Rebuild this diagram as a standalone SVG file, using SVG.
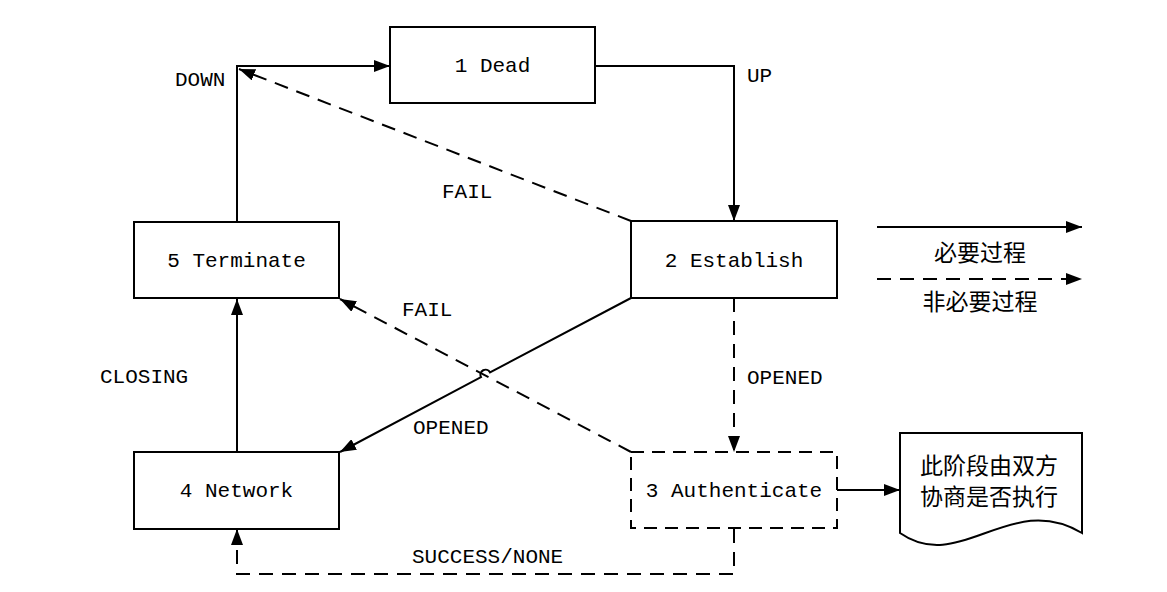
<svg xmlns="http://www.w3.org/2000/svg" width="1167" height="592" viewBox="0 0 1167 592">
<style>
.box{fill:#fff;stroke:#000;stroke-width:2}
.dbox{fill:#fff;stroke:#000;stroke-width:2;stroke-dasharray:13 8}
.ln{fill:none;stroke:#000;stroke-width:2}
.dl{fill:none;stroke:#000;stroke-width:2;stroke-dasharray:14 9}
.t{font-family:"Liberation Mono",monospace;font-size:21px;fill:#000}
.c{font-family:"Noto Sans CJK SC",sans-serif;font-size:23px;fill:#000}
</style>
<defs>
<marker id="ah" viewBox="0 0 16 12" refX="16" refY="6" markerWidth="16" markerHeight="12" markerUnits="userSpaceOnUse" orient="auto">
<path d="M0,0 L16,6 L0,12 Z" fill="#000"/>
</marker>
</defs>
<rect width="1167" height="592" fill="#fff"/>
<g id="connectors">
<polyline class="ln" points="237,222 237,66 390,66" marker-end="url(#ah)"/>
<polyline class="ln" points="595,66 734,66 734,221" marker-end="url(#ah)"/>
<line class="dl" x1="631" y1="221" x2="239" y2="69" marker-end="url(#ah)"/>
<path class="ln" d="M631,298 L490,372.4 A5,5 0 0 0 481,377.1 L340,452" marker-end="url(#ah)"/>
<line class="dl" x1="734" y1="298" x2="734" y2="452" marker-end="url(#ah)"/>
<line class="dl" x1="631" y1="452" x2="340" y2="299" marker-end="url(#ah)"/>
<line class="ln" x1="237" y1="452" x2="237" y2="299" marker-end="url(#ah)"/>
<polyline class="dl" points="734,529 734,574 237,574 237,529" marker-end="url(#ah)"/>
<line class="ln" x1="837" y1="490" x2="900" y2="490" marker-end="url(#ah)"/>
<line class="ln" x1="877" y1="227" x2="1082" y2="227" marker-end="url(#ah)"/>
<line class="dl" x1="877" y1="279" x2="1082" y2="279" marker-end="url(#ah)"/>
</g>
<g id="labels">
<text class="t" x="175" y="86">DOWN</text>
<text class="t" x="747" y="82">UP</text>
<text class="t" x="442" y="198">FAIL</text>
<text class="t" x="402" y="316">FAIL</text>
<text class="t" x="413" y="434">OPENED</text>
<text class="t" x="747" y="384">OPENED</text>
<text class="t" x="100" y="383">CLOSING</text>
<text class="t" x="412" y="563">SUCCESS/NONE</text>
<text class="c" x="980" y="261" text-anchor="middle">必要过程</text>
<text class="c" x="980" y="310" text-anchor="middle">非必要过程</text>
</g>
<g id="n1">
<rect class="box" x="390" y="27" width="205" height="76"/>
<text class="t" x="492.5" y="72" text-anchor="middle">1 Dead</text>
</g>
<g id="n2">
<rect class="box" x="631" y="221" width="206" height="77"/>
<text class="t" x="734" y="267" text-anchor="middle">2 Establish</text>
</g>
<g id="n3">
<rect class="dbox" x="631" y="452" width="206" height="76"/>
<text class="t" x="734" y="497" text-anchor="middle">3 Authenticate</text>
</g>
<g id="n4">
<rect class="box" x="134" y="452" width="205" height="77"/>
<text class="t" x="236.5" y="497" text-anchor="middle">4 Network</text>
</g>
<g id="n5">
<rect class="box" x="134" y="222" width="205" height="76"/>
<text class="t" x="236.5" y="267" text-anchor="middle">5 Terminate</text>
</g>
<g id="note">
<path class="box" d="M900,433 L1082,433 L1082,533 C1010,490 960,575 900,533 Z"/>
<text class="c" x="989" y="474" text-anchor="middle">此阶段由双方</text>
<text class="c" x="989" y="505" text-anchor="middle">协商是否执行</text>
</g>
</svg>
